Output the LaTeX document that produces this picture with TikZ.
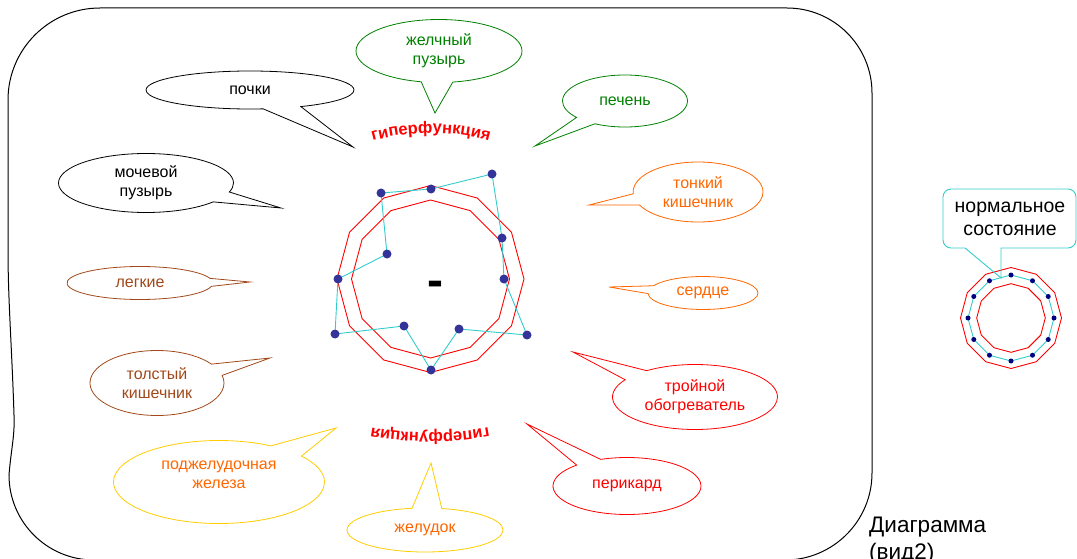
\documentclass[tikz,border=0pt]{standalone}
\usepackage{fontspec}
\setmainfont{Liberation Sans}
\usetikzlibrary{shapes.callouts,decorations.text,calc}
\definecolor{grn}{RGB}{0,128,0}
\definecolor{org}{RGB}{255,102,0}
\definecolor{yel}{RGB}{255,204,0}
\definecolor{brn}{RGB}{160,72,25}
\definecolor{cyn}{RGB}{51,204,204}
\definecolor{dotblue}{RGB}{51,51,153}
\definecolor{navyd}{RGB}{0,0,128}
\begin{document}
\begin{tikzpicture}[x=1pt,y=-1pt,
  bub/.style={ellipse callout, draw, line width=0.8pt, inner sep=0pt, align=center,
    font=\fontsize{16}{19}\selectfont, callout pointer arc=22},
  blk/.style={draw=black, text=black},
  grnb/.style={draw=grn, text=grn},
  orgb/.style={draw=org, text=org},
  yelb/.style={draw=yel, text=org},
  redb/.style={draw=red, text=red},
  brnb/.style={draw=brn, text=brn},
  redline/.style={draw=red, line width=0.9pt},
  cyl/.style={draw=cyn, line width=0.9pt},
  frameline/.style={draw=black, line width=1pt},
  arctext/.style={decorate, decoration={text along path, text align=center, text color=red,
    text={|\bfseries\fontsize{16.5}{16.5}\selectfont|гиперфункция}}}
]
\useasboundingbox (0,0) rectangle (1077,559);

% frame
\draw[frameline] (100,8) -- (787,8) arc[start angle=-90,end angle=0,radius=85]
  -- (872,473) arc[start angle=0,end angle=90,radius=87]
  -- (94,560) arc[start angle=90,end angle=180,radius=85]
  .. controls (11,450) and (15,435) .. (14,415)
  .. controls (12,350) and (8,300) .. (8,250)
  -- (8,100) arc[start angle=180,end angle=270,radius=92] -- cycle;

% callouts
\node[bub,blk,minimum width=208pt,minimum height=38pt,callout absolute pointer={(353,147)}] (pochki) at (250,90) {почки};
\node[bub,blk,minimum width=175pt,minimum height=59pt,callout absolute pointer={(281,208)}] (mochevoy) at (146,183) {мочевой\\пузырь};
\node[bub,brnb,minimum width=146pt,minimum height=33pt,callout pointer arc=28,callout absolute pointer={(250,282)}] (legkie) at (140,283) {легкие};
\node[bub,brnb,minimum width=134pt,minimum height=65pt,callout absolute pointer={(270,358)}] (tolsty) at (157,383) {толстый\\кишечник};
\node[bub,yelb,minimum width=211pt,minimum height=83pt,callout absolute pointer={(336,428)}] (podzh) at (219,482)
  {\raisebox{7pt}[\height][\depth]{\begin{tabular}{@{}c@{}}поджелудочная\\железа\end{tabular}}};
\node[bub,yelb,minimum width=156pt,minimum height=44pt,callout absolute pointer={(431,463)}] (zheludok) at (425,530) {желудок};
\node[bub,redb,minimum width=148pt,minimum height=57pt,callout absolute pointer={(527,424)}] (perikard) at (627,486) {перикард};
\node[bub,redb,minimum width=165pt,minimum height=65pt,callout absolute pointer={(573,352)}] (troynoy) at (695,397) {тройной\\обогреватель};
\node[bub,orgb,minimum width=110pt,minimum height=33pt,callout pointer arc=28,callout absolute pointer={(609,287)}] (serdce) at (703,293) {сердце};
\node[bub,orgb,minimum width=130pt,minimum height=60pt,callout absolute pointer={(589,205)}] (tonkiy) at (698,192) {тонкий\\кишечник};
\node[bub,grnb,minimum width=125pt,minimum height=52pt,callout absolute pointer={(535,146)}] (pechen) at (625,101) {печень};
\node[bub,grnb,minimum width=166pt,minimum height=63pt,callout absolute pointer={(435,113)}] (zhelch) at (439,51) {желчный\\пузырь};

% arc texts
\path[arctext] (431,353) ++(-106:220) arc[start angle=-106,end angle=-74,radius=220];
\path[arctext] (430,113) ++(79:320) arc[start angle=79,end angle=101,radius=320];

% central chart
\coordinate (c) at (430.5,279);
\begin{scope}[shift={(c)}]
\draw[redline] (-90:93.5) \foreach \k in {1,...,11}{ -- (-90+30*\k:93.5)} -- cycle;
\draw[redline] (-90:79) \foreach \k in {1,...,11}{ -- (-90+30*\k:79)} -- cycle;
\end{scope}
\foreach \n/\x/\y in {A/381/193,B/431/189,C/492/174,D/502/238,E/504/279,F/527/335,G/459/329,H/431/370,I/404/326,J/335/334,K/338/279,L/387/254}
  \coordinate (\n) at (\x,\y);
\draw[cyl] (B)--(C)--(D)--(E)--(F)--(G)--(H)--(I)--(J)--(K)--(L)--(A)--cycle;
\foreach \n in {A,B,C,D,E,F,G,H,I,J,K,L}
  \fill[dotblue] (\n) circle[radius=4.5];
\node[font=\bfseries\fontsize{48}{48}\selectfont, inner sep=0pt] (minus) at (435,288.5) {-};

% normal state diagram
\coordinate (n) at (1011,318);
\begin{scope}[shift={(n)}]
\draw[redline] (-90:50.5) \foreach \k in {1,...,11}{ -- (-90+30*\k:50.5)} -- cycle;
\draw[redline] (-90:34.3) \foreach \k in {1,...,11}{ -- (-90+30*\k:34.3)} -- cycle;
\draw[cyl] (-90:43) \foreach \k in {1,...,11}{ -- (-90+30*\k:43)} -- cycle;
\foreach \k in {0,...,11} \fill[navyd] (-90+30*\k:43) circle[radius=2.5];
\end{scope}
\draw[cyl] (965,248) -- (1001,278) -- (1001,248) -- (1068,248)
  arc[start angle=90,end angle=0,radius=8] -- (1076,197)
  arc[start angle=0,end angle=-90,radius=8] -- (951,189)
  arc[start angle=-90,end angle=-180,radius=8] -- (943,240)
  arc[start angle=180,end angle=90,radius=8] -- cycle;
\node[font=\fontsize{19.5}{22.5}\selectfont, align=center, inner sep=0pt] (normal) at (1010,219) {нормальное\\состояние};

% title
\node[font=\fontsize{22.5}{27}\selectfont, align=left, inner sep=0pt, anchor=north west] (diag) at (869,517) {Диаграмма\\(вид2)};
\end{tikzpicture}
\end{document}
